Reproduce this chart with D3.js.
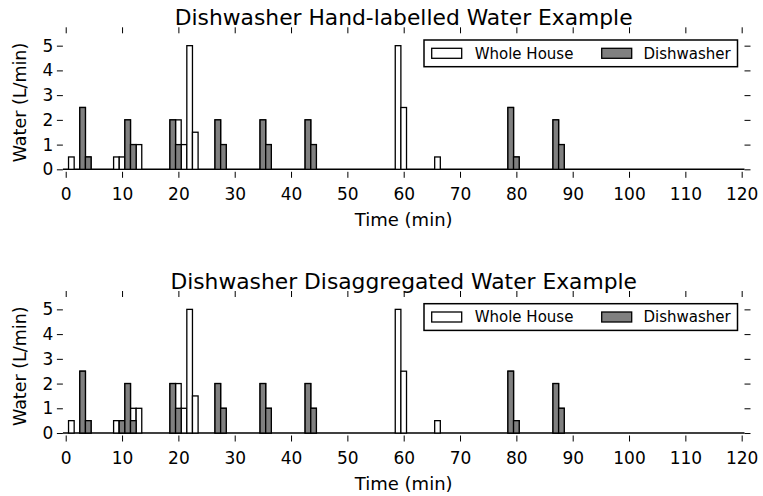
<!DOCTYPE html>
<html lang="en">
<head>
<meta charset="utf-8">
<title>Dishwasher Water Example</title>
<script src="https://d3js.org/d3.v7.min.js"></script>
<style>
  body { margin: 0; background: #fff; }
  text { font-family: "DejaVu Sans", sans-serif; }
</style>
</head>
<body>
<svg id="chart" width="763" height="496"></svg>
<script>
// minutes with flow (L/min); every other minute from 0 to 120 is 0
var houseMinutes = [1, 3, 4, 9, 10, 11, 12, 13, 19, 20, 21, 22, 23, 27, 28, 35, 36, 43, 44, 59, 60, 66, 79, 80, 87, 88];
var houseFlow    = [0.5, 2.5, 0.5, 0.5, 0.5, 2, 1, 1, 2, 2, 1, 5, 1.5, 2, 1, 2, 1, 2, 1, 5, 2.5, 0.5, 2.5, 0.5, 2, 1];

var labelledMinutes = [3, 4, 11, 12, 19, 20, 27, 28, 35, 36, 43, 44, 79, 80, 87, 88];
var labelledFlow    = [2.5, 0.5, 2, 1, 2, 1, 2, 1, 2, 1, 2, 1, 2.5, 0.5, 2, 1];

var disaggMinutes = [3, 4, 10, 11, 12, 19, 20, 27, 28, 35, 36, 43, 44, 79, 80, 87, 88];
var disaggFlow    = [2.5, 0.5, 0.5, 2, 0.5, 2, 1, 2, 1, 2, 1, 2, 1, 2.5, 0.5, 2, 1];

var xTicks = [0, 10, 20, 30, 40, 50, 60, 70, 80, 90, 100, 110, 120];
var yTicks = [0, 1, 2, 3, 4, 5];

var svg = d3.select("#chart");
svg.append("rect").attr("width", 763).attr("height", 496).attr("fill", "#fff");

var x = d3.scaleLinear().domain([-0.5, 120.5]).range([62.9, 744.5]);

function panel(top, title, dishMinutes, dishFlow) {
    var height = 138.5;
    var y = d3.scaleLinear().domain([-0.1, 5.5]).range([top + height, top]);
    var g = svg.append("g");

    var house = houseMinutes.map((m, i) => ({m: m, v: houseFlow[i]}));
    var dish = dishMinutes.map((m, i) => ({m: m, v: dishFlow[i]}));

    // zero-height bars show up as a line along the bottom
    g.append("line")
        .attr("x1", x(-0.5)).attr("x2", x(120.5))
        .attr("y1", y(0)).attr("y2", y(0))
        .attr("stroke", "#000").attr("stroke-width", 1.5);

    function bars(data, fill) {
        g.append("g").selectAll("rect")
            .data(data)
          .enter().append("rect")
            .attr("x", d => x(d.m - 0.5))
            .attr("width", d => x(d.m + 0.5) - x(d.m - 0.5))
            .attr("y", d => y(d.v))
            .attr("height", d => y(0) - y(d.v))
            .attr("fill", fill)
            .attr("stroke", "#000")
            .attr("stroke-width", 1.3);
    }
    bars(house, "#fff");
    bars(dish, "#808080");

    var axes = [
        [d3.axisBottom(x).tickValues(xTicks).tickPadding(10), "translate(0," + (top + height) + ")"],
        [d3.axisTop(x).tickValues(xTicks).tickFormat(""), "translate(0," + top + ")"],
        [d3.axisLeft(y).tickValues(yTicks).tickFormat(d3.format("d")).tickPadding(3.5), "translate(" + x.range()[0] + ",0)"],
        [d3.axisRight(y).tickValues(yTicks).tickFormat(""), "translate(" + x.range()[1] + ",0)"]
    ];
    axes.forEach(function(a) {
        var ax = g.append("g")
            .attr("transform", a[1])
            .call(a[0].tickSize(6).tickSizeOuter(0));
        ax.select(".domain").remove();
        ax.attr("font-size", 17).attr("font-family", "DejaVu Sans");
        ax.selectAll("text").attr("fill", "#000");
    });

    var cx = (x.range()[0] + x.range()[1]) / 2;
    g.append("text")
        .attr("x", cx).attr("y", top - 8.5)
        .attr("text-anchor", "middle")
        .attr("font-size", 21.8)
        .text(title);

    g.append("text")
        .attr("x", cx).attr("y", top + height + 54)
        .attr("text-anchor", "middle")
        .attr("font-size", 18)
        .text("Time (min)");

    g.append("text")
        .attr("transform", "translate(26," + (top + height / 2) + ") rotate(-90)")
        .attr("text-anchor", "middle")
        .attr("font-size", 17.5)
        .text("Water (L/min)");

    // legend
    var lg = g.append("g").attr("transform", "translate(424," + (top + 6.7) + ")");
    lg.append("rect")
        .attr("width", 313.5).attr("height", 26.7)
        .attr("fill", "#fff").attr("stroke", "#000").attr("stroke-width", 1.5);
    var items = [["Whole House", "#fff", 7.7, 50.7], ["Dishwasher", "#808080", 177.7, 219.5]];
    items.forEach(function(it) {
        lg.append("rect")
            .attr("x", it[2]).attr("y", 8.3)
            .attr("width", 30).attr("height", 10)
            .attr("fill", it[1]).attr("stroke", "#000").attr("stroke-width", 1.3);
        lg.append("text")
            .attr("x", it[3]).attr("y", 13.35).attr("dy", "0.35em")
            .attr("font-size", 15)
            .text(it[0]);
    });
}

panel(33.3, "Dishwasher Hand-labelled Water Example", labelledMinutes, labelledFlow);
panel(297, "Dishwasher Disaggregated Water Example", disaggMinutes, disaggFlow);
</script>
</body>
</html>
